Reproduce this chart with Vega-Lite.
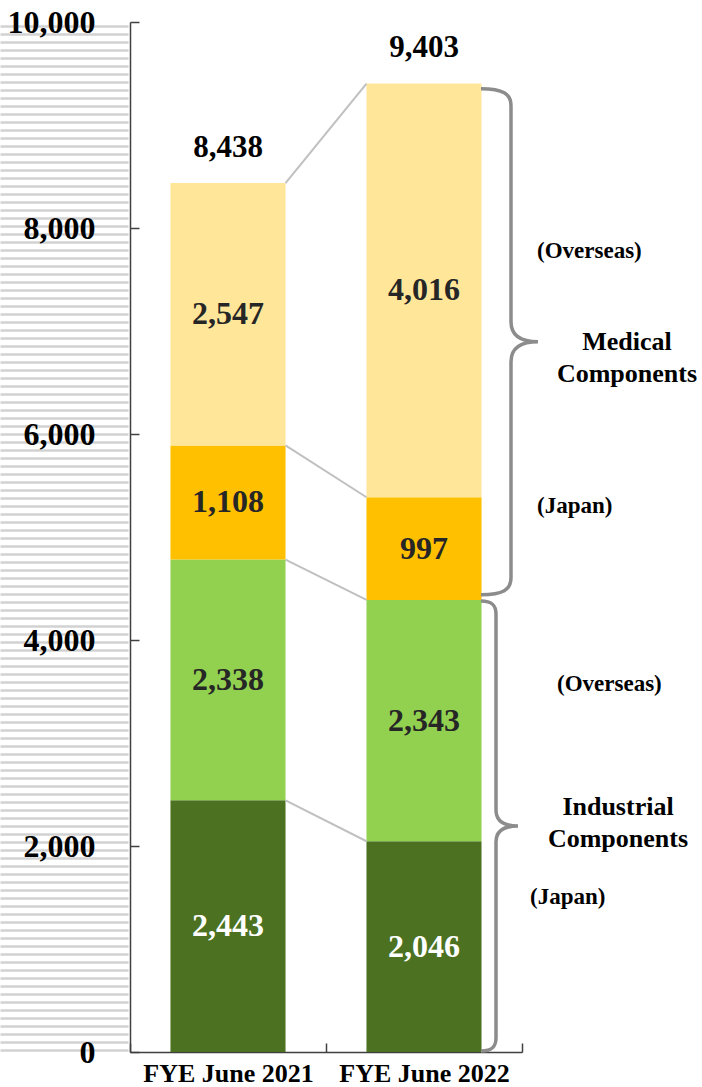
{
  "$schema": "https://vega.github.io/schema/vega-lite/v6.json",
  "width": 392,
  "height": 1030,
  "autosize": {"type": "none"},
  "padding": {"left": 130, "top": 22, "right": 180, "bottom": 35},
  "background": "white",
  "config": {
    "view": {"stroke": null},
    "scale": {"bandPaddingInner": 0, "bandPaddingOuter": 0},
    "text": {"font": "Liberation Serif", "fontWeight": "bold"},
    "axisX": {
      "labelAngle": 0, "tickBand": "extent", "tickSize": -9, "tickColor": "#404040", "tickWidth": 1.5,
      "domainColor": "#404040", "domainWidth": 1.5, "labelFont": "Liberation Serif", "labelFontSize": 26,
      "labelFontWeight": "bold", "labelColor": "black", "labelPadding": 17,
      "labelOverlap": false, "labelFlush": false, "labelBound": false, "grid": false
    }
  },
  "datasets": {
    "sales": [
      {"year": "FYE June 2021", "group": "Industrial", "segment": "Industrial Japan", "k": 1, "value": 2443},
      {"year": "FYE June 2021", "group": "Industrial", "segment": "Industrial Overseas", "k": 2, "value": 2338},
      {"year": "FYE June 2021", "group": "Medical", "segment": "Medical Japan", "k": 3, "value": 1108},
      {"year": "FYE June 2021", "group": "Medical", "segment": "Medical Overseas", "k": 4, "value": 2547},
      {"year": "FYE June 2022", "group": "Industrial", "segment": "Industrial Japan", "k": 1, "value": 2046},
      {"year": "FYE June 2022", "group": "Industrial", "segment": "Industrial Overseas", "k": 2, "value": 2343},
      {"year": "FYE June 2022", "group": "Medical", "segment": "Medical Japan", "k": 3, "value": 997},
      {"year": "FYE June 2022", "group": "Medical", "segment": "Medical Overseas", "k": 4, "value": 4016}
    ],
    "totals": [
      {"year": "FYE June 2021", "total": 8438},
      {"year": "FYE June 2022", "total": 9403}
    ],
    "notes": [
      {"id": "mo", "note": "(Overseas)", "at": 7709},
      {"id": "mj", "note": "(Japan)", "at": 5233},
      {"id": "mg", "note": "Medical\nComponents", "at": 6816},
      {"id": "io", "note": "(Overseas)", "at": 3505},
      {"id": "ig", "note": "Industrial\nComponents", "at": 2301},
      {"id": "ij", "note": "(Japan)", "at": 1437}
    ]
  },
  "resolve": {"axis": {"y": "independent"}},
  "layer": [
    {
      "data": {"name": "sales"},
      "transform": [
        {"stack": "value", "groupby": ["year"], "sort": [{"field": "k", "order": "ascending"}], "as": ["v0", "v1"]}
      ],
      "mark": {"type": "bar", "width": {"band": 0.587}},
      "encoding": {
        "x": {"field": "year", "type": "nominal", "sort": null, "title": null},
        "y": {
          "field": "v1", "type": "quantitative",
          "scale": {"domain": [0, 10000], "nice": false},
          "axis": {
            "orient": "left", "title": null, "values": [0, 2000, 4000, 6000, 8000, 10000], "format": ",.0f",
            "grid": false, "tickSize": -9, "tickColor": "#404040", "tickWidth": 1.5,
            "domainColor": "#404040", "domainWidth": 1.5, "labelFont": "Liberation Serif", "labelFontSize": 32,
            "labelFontWeight": "bold", "labelColor": "black", "labelPadding": 44, "labelFlush": false,
            "labelOverlap": false, "zindex": 1
          }
        },
        "y2": {"field": "v0"},
        "color": {
          "field": "segment", "type": "nominal", "legend": null,
          "scale": {
            "domain": ["Industrial Japan", "Industrial Overseas", "Medical Japan", "Medical Overseas"],
            "range": ["#4b7121", "#92d050", "#ffc000", "#ffe699"]
          }
        }
      }
    },
    {
      "data": {"name": "sales"},
      "transform": [
        {"stack": "value", "groupby": ["year"], "sort": [{"field": "k", "order": "ascending"}], "as": ["v0", "v1"]},
        {"pivot": "year", "value": "v1", "groupby": ["segment"]}
      ],
      "mark": {"type": "rule", "color": "#c0c0c0", "strokeWidth": 2, "xOffset": 57.5, "x2Offset": -57.5},
      "encoding": {
        "x": {"datum": "FYE June 2021", "type": "nominal", "title": null},
        "x2": {"datum": "FYE June 2022"},
        "y": {
          "field": "FYE June 2021", "type": "quantitative",
          "scale": {"domain": [0, 10000], "nice": false},
          "axis": {
            "orient": "left", "offset": 2, "title": null, "labels": false, "domain": false, "grid": false,
            "ticks": true, "tickSize": 128, "tickWidth": 2.6, "tickColor": "#d2d2d2", "tickCount": 300, "zindex": 0,
            "values": [10197, 10119, 10042, 9964, 9886, 9809, 9731, 9653, 9576, 9498,
              9420, 9343, 9265, 9187, 9110, 9032, 8954, 8877, 8799, 8721,
              8644, 8566, 8488, 8411, 8333, 8255, 8178, 8100, 8022, 7945,
              7867, 7789, 7712, 7634, 7556, 7479, 7401, 7323, 7246, 7168,
              7090, 7013, 6935, 6857, 6780, 6702, 6624, 6547, 6469, 6391,
              6314, 6236, 6158, 6081, 6003, 5925, 5848, 5770, 5692, 5615,
              5537, 5459, 5382, 5304, 5226, 5149, 5071, 4993, 4916, 4838,
              4760, 4683, 4605, 4527, 4450, 4372, 4294, 4217, 4139, 4061,
              3984, 3906, 3828, 3751, 3673, 3595, 3518, 3440, 3362, 3284,
              3207, 3129, 3051, 2974, 2896, 2818, 2741, 2663, 2585, 2508,
              2430, 2352, 2275, 2197, 2119, 2042, 1964, 1886, 1809, 1731,
              1653, 1576, 1498, 1420, 1343, 1265, 1187, 1110, 1032, 954,
              877, 799, 721, 644, 566, 488, 411, 333, 255, 178,
              100, 22, -55, -133, -211, -288]
          }
        },
        "y2": {"field": "FYE June 2022"}
      }
    },
    {
      "data": {"name": "sales"},
      "transform": [
        {"stack": "value", "groupby": ["year"], "sort": [{"field": "k", "order": "ascending"}], "as": ["v0", "v1"]},
        {"fold": ["v0", "v1"], "as": ["edge", "pos"]},
        {"aggregate": [{"op": "mean", "field": "pos", "as": "mid"}, {"op": "max", "field": "value", "as": "value"}], "groupby": ["year", "segment"]}
      ],
      "mark": {"type": "text", "fontSize": 32, "baseline": "middle", "align": "center"},
      "encoding": {
        "x": {"field": "year", "type": "nominal", "title": null},
        "y": {"field": "mid", "type": "quantitative", "scale": {"domain": [0, 10000], "nice": false}, "axis": null},
        "text": {"field": "value", "type": "quantitative", "format": ","},
        "color": {"condition": {"test": "datum.segment === 'Industrial Japan'", "value": "white"}, "value": "#262626"}
      }
    },
    {
      "data": {"name": "totals"},
      "mark": {"type": "text", "fontSize": 31, "baseline": "alphabetic", "align": "center", "dy": -26, "color": "black"},
      "encoding": {
        "x": {"field": "year", "type": "nominal", "title": null},
        "y": {"field": "total", "type": "quantitative", "scale": {"domain": [0, 10000], "nice": false}, "axis": null},
        "text": {"field": "total", "type": "quantitative", "format": ","}
      }
    },
    {
      "data": {"name": "sales"},
      "transform": [
        {"filter": "datum.year === 'FYE June 2022'"},
        {"stack": "value", "groupby": ["year"], "sort": [{"field": "k", "order": "ascending"}], "as": ["v0", "v1"]},
        {"aggregate": [{"op": "min", "field": "v0", "as": "lo"}, {"op": "max", "field": "v1", "as": "hi"}], "groupby": ["group"]},
        {"fold": ["lo", "hi"], "as": ["edge", "pos"]},
        {"aggregate": [{"op": "mean", "field": "pos", "as": "mid"}], "groupby": ["group"]},
        {"filter": "datum.group === 'Medical'"}
      ],
      "mark": {
        "type": "point", "filled": false, "opacity": 1, "stroke": "#8c8c8c", "strokeWidth": 3.5, "size": 256036, "xOffset": 87,
        "shape": "M-0.1186,-1C-0.0316,-1,0,-0.98,0,-0.933L0,-0.079C0,-0.0237,0.0395,0,0.1067,0C0.0395,0,0,0.0237,0,0.079L0,0.933C0,0.98,-0.0316,1,-0.1186,1"
      },
      "encoding": {
        "x": {"datum": "FYE June 2022", "type": "nominal", "title": null},
        "y": {"field": "mid", "type": "quantitative", "scale": {"domain": [0, 10000], "nice": false}, "axis": null}
      }
    },
    {
      "data": {"name": "sales"},
      "transform": [
        {"filter": "datum.year === 'FYE June 2022'"},
        {"stack": "value", "groupby": ["year"], "sort": [{"field": "k", "order": "ascending"}], "as": ["v0", "v1"]},
        {"aggregate": [{"op": "min", "field": "v0", "as": "lo"}, {"op": "max", "field": "v1", "as": "hi"}], "groupby": ["group"]},
        {"fold": ["lo", "hi"], "as": ["edge", "pos"]},
        {"aggregate": [{"op": "mean", "field": "pos", "as": "mid"}], "groupby": ["group"]},
        {"filter": "datum.group === 'Industrial'"}
      ],
      "mark": {
        "type": "point", "filled": false, "opacity": 1, "stroke": "#8c8c8c", "strokeWidth": 3.5, "size": 202500, "xOffset": 72,
        "shape": "M-0.0667,-1C-0.0178,-1,0,-0.982,0,-0.942L0,-0.0711C0,-0.0222,0.0356,0,0.0978,0C0.0356,0,0,0.0222,0,0.0711L0,0.942C0,0.982,-0.0178,1,-0.0667,1"
      },
      "encoding": {
        "x": {"datum": "FYE June 2022", "type": "nominal", "title": null},
        "y": {"field": "mid", "type": "quantitative", "scale": {"domain": [0, 10000], "nice": false}, "axis": null}
      }
    },
    {
      "data": {"name": "notes"},
      "transform": [{"filter": "datum.id === 'mo' || datum.id === 'mj'"}],
      "mark": {"type": "text", "fontSize": 23, "align": "left", "baseline": "alphabetic", "xOffset": 113, "color": "black"},
      "encoding": {
        "x": {"datum": "FYE June 2022", "type": "nominal", "title": null},
        "y": {"field": "at", "type": "quantitative", "scale": {"domain": [0, 10000], "nice": false}, "axis": null},
        "text": {"field": "note", "type": "nominal"}
      }
    },
    {
      "data": {"name": "notes"},
      "transform": [{"filter": "datum.id === 'mg'"}],
      "mark": {"type": "text", "fontSize": 26, "align": "center", "baseline": "alphabetic", "xOffset": 203, "color": "black", "lineBreak": "\n", "lineHeight": 32},
      "encoding": {
        "x": {"datum": "FYE June 2022", "type": "nominal", "title": null},
        "y": {"field": "at", "type": "quantitative", "scale": {"domain": [0, 10000], "nice": false}, "axis": null},
        "text": {"field": "note", "type": "nominal"}
      }
    },
    {
      "data": {"name": "notes"},
      "transform": [{"filter": "datum.id === 'io'"}],
      "mark": {"type": "text", "fontSize": 23, "align": "left", "baseline": "alphabetic", "xOffset": 133, "color": "black"},
      "encoding": {
        "x": {"datum": "FYE June 2022", "type": "nominal", "title": null},
        "y": {"field": "at", "type": "quantitative", "scale": {"domain": [0, 10000], "nice": false}, "axis": null},
        "text": {"field": "note", "type": "nominal"}
      }
    },
    {
      "data": {"name": "notes"},
      "transform": [{"filter": "datum.id === 'ig'"}],
      "mark": {"type": "text", "fontSize": 26, "align": "center", "baseline": "alphabetic", "xOffset": 194, "color": "black", "lineBreak": "\n", "lineHeight": 32},
      "encoding": {
        "x": {"datum": "FYE June 2022", "type": "nominal", "title": null},
        "y": {"field": "at", "type": "quantitative", "scale": {"domain": [0, 10000], "nice": false}, "axis": null},
        "text": {"field": "note", "type": "nominal"}
      }
    },
    {
      "data": {"name": "notes"},
      "transform": [{"filter": "datum.id === 'ij'"}],
      "mark": {"type": "text", "fontSize": 23, "align": "left", "baseline": "alphabetic", "xOffset": 106, "color": "black"},
      "encoding": {
        "x": {"datum": "FYE June 2022", "type": "nominal", "title": null},
        "y": {"field": "at", "type": "quantitative", "scale": {"domain": [0, 10000], "nice": false}, "axis": null},
        "text": {"field": "note", "type": "nominal"}
      }
    }
  ]
}
